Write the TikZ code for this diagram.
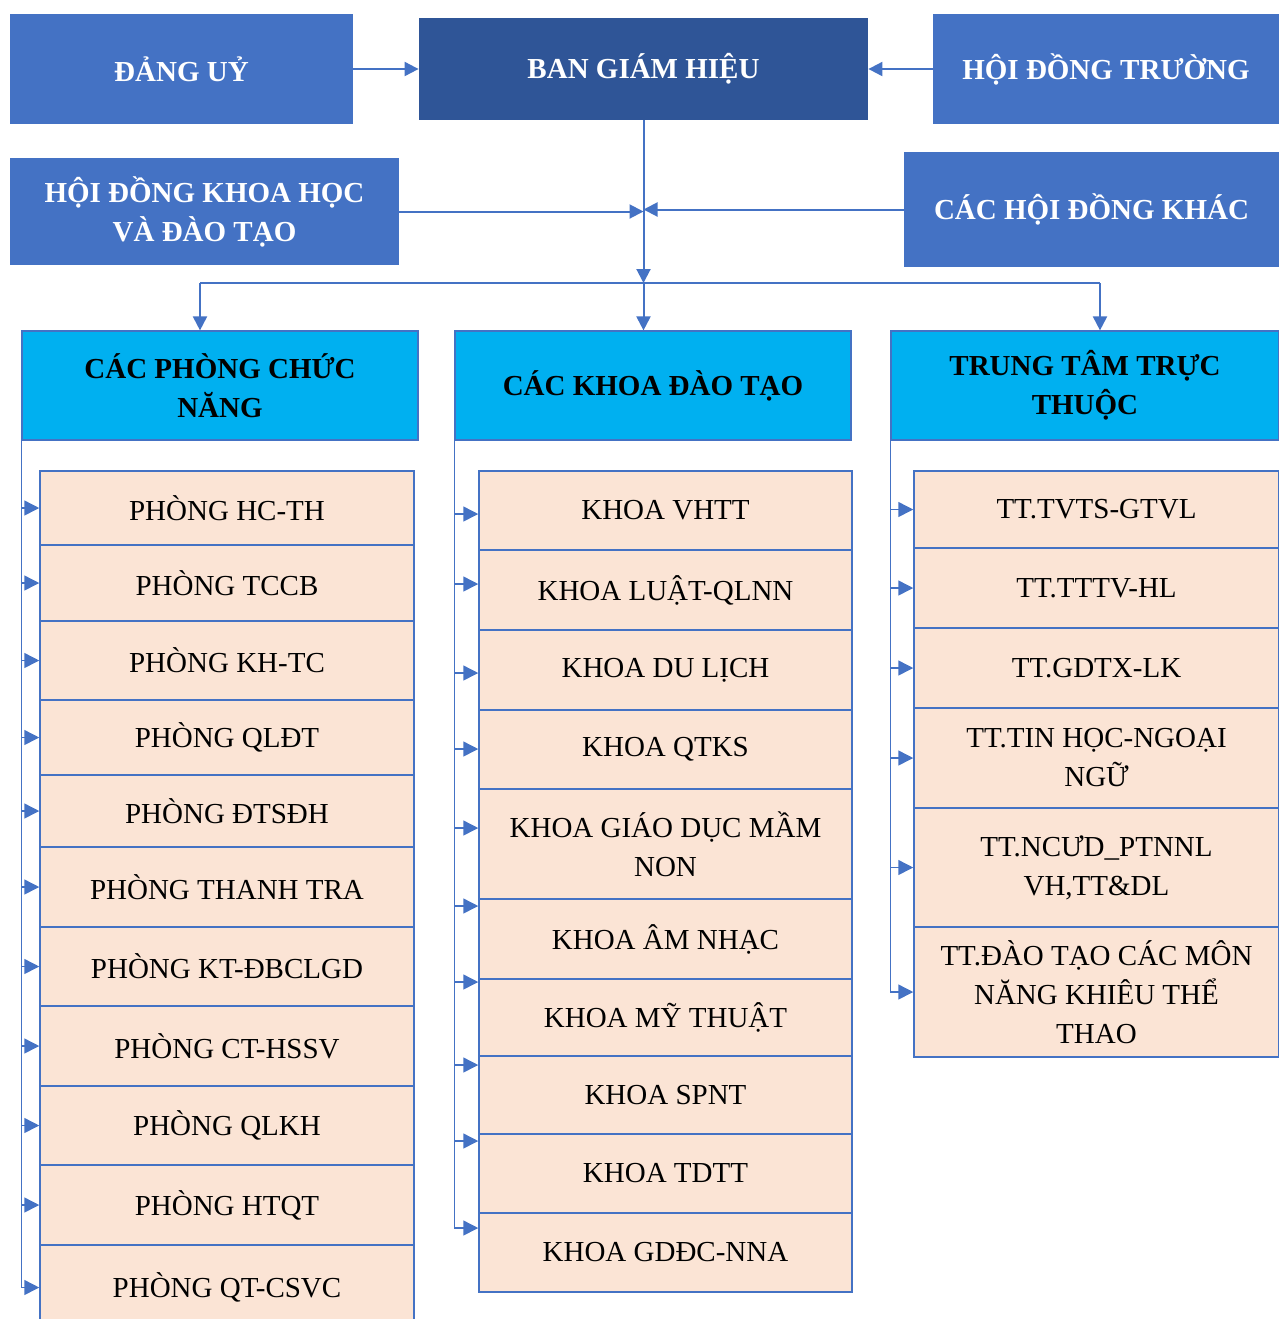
\documentclass[tikz,border=0pt]{standalone}
\usepackage{fontspec}
\setmainfont{Liberation Serif}
\usetikzlibrary{arrows.meta}

\definecolor{topblue}{HTML}{4472C4}
\definecolor{darkblue}{HTML}{2F5597}
\definecolor{headblue}{HTML}{00B0F0}
\definecolor{peach}{HTML}{FBE4D5}

\tikzset{
  span/.style n args={4}{at={({(#1+#3)/2},{(#2+#4)/2})},
    minimum width={(#3-#1)*0.5pt}, minimum height={(#4-#2)*0.5pt}},
  topbox/.style={fill=topblue, draw=none, inner sep=0pt, align=center,
    text=white, font=\fontsize{14.5}{19.5}\selectfont\bfseries},
  headbox/.style={fill=headblue, draw=topblue, line width=0.6pt, inner sep=0pt,
    align=center, font=\fontsize{14.5}{19.5}\selectfont\bfseries},
  listbox/.style={fill=peach, draw=topblue, line width=0.75pt, inner sep=0pt,
    align=center, font=\fontsize{14.5}{19.5}\selectfont},
  link/.style={draw=topblue, line width=1pt},
  arr/.style={link, -{Triangle[length=7pt,width=7pt]}},
  spine/.style={draw=topblue, line width=0.75pt},
  sarr/.style={spine, -{Triangle[length=7.5pt,width=7.5pt]}}
}

\begin{document}
\begin{tikzpicture}[x=0.5pt,y=-0.5pt]
\useasboundingbox (0,0) rectangle (1279,1319);

% draw boxes on top
\node[topbox, span={10}{14}{353}{124}] (dang) {ĐẢNG UỶ};
\node[topbox, fill=darkblue, span={419}{18}{868}{120}] (bgh) {BAN GIÁM HIỆU};
\node[topbox, span={933}{14}{1279}{124}] (hdt) {HỘI ĐỒNG TRƯỜNG};
\node[topbox, span={10}{158}{399}{265}] (hdkh) {HỘI ĐỒNG KHOA HỌC\\VÀ ĐÀO TẠO};
\node[topbox, span={904}{152}{1279}{267}] (hdk) {CÁC HỘI ĐỒNG KHÁC};

% draw arrows to the board
\draw[arr] (dang) -- (bgh);
\draw[arr] (hdt) -- (bgh);
\draw[arr] (hdkh) -- (hdkh -| bgh.south);
\draw[arr] (hdk) -- (hdk -| bgh.south);

% draw the three column heads
\node[headbox, span={22}{331}{418}{440}] (hp) {CÁC PHÒNG CHỨC\\NĂNG};
\node[headbox, span={455}{331}{851}{440}] (hk) {CÁC KHOA ĐÀO TẠO};
\node[headbox, span={891}{331}{1279}{440}] (ht) {TRUNG TÂM TRỰC\\THUỘC};

% draw the line over the heads
\coordinate (busl) at (200,283);
\coordinate (busr) at (1100,283);
\draw[arr] (bgh.south) -- (bgh.south |- busl);
\draw[link] (busl) -- (busr);
\draw[arr] (busl) -- (busl |- hp.north);
\draw[arr] (bgh.south |- busl) -- (bgh.south |- hk.north);
\draw[arr] (busr) -- (busr |- ht.north);

% draw the offices
\foreach \i/\t/\b/\txt in {
  1/471/545/{PHÒNG HC-TH},
  2/545/621/{PHÒNG TCCB},
  3/621/700/{PHÒNG KH-TC},
  4/700/775/{PHÒNG QLĐT},
  5/775/847/{PHÒNG ĐTSĐH},
  6/847/927/{PHÒNG THANH TRA},
  7/927/1006/{PHÒNG KT-ĐBCLGD},
  8/1006/1086/{PHÒNG CT-HSSV},
  9/1086/1165/{PHÒNG QLKH},
  10/1165/1245/{PHÒNG HTQT},
  11/1245/1330/{PHÒNG QT-CSVC}}
\node[listbox, span={40}{\t}{414}{\b}] (p\i) {\txt};

\draw[spine] (hp.south west) -- (hp.south west |- p11.west);
\foreach \i in {1,...,11}
\draw[sarr] (hp.south west |- p\i.west) -- (p\i.west);

% draw the faculties
\foreach \i/\t/\b/\txt in {
  1/471/550/{KHOA VHTT},
  2/550/630/{KHOA LUẬT-QLNN},
  3/630/710/{KHOA DU LỊCH},
  4/710/789/{KHOA QTKS},
  5/789/899/{KHOA GIÁO DỤC MẦM\\NON},
  6/899/979/{KHOA ÂM NHẠC},
  7/979/1056/{KHOA MỸ THUẬT},
  8/1056/1134/{KHOA SPNT},
  9/1134/1213/{KHOA TDTT},
  10/1213/1292/{KHOA GDĐC-NNA}}
\node[listbox, span={479}{\t}{852}{\b}] (k\i) {\txt};

\draw[spine] (hk.south west) -- (hk.south west |- 0,1228);
\foreach \i/\y in {1/514,2/584,3/673,4/749,5/828,6/906,7/982,8/1065,9/1141,10/1228}
\draw[sarr] (hk.south west |- 0,\y) -- (k\i.west |- 0,\y);

% draw the centres
\foreach \i/\t/\b/\txt in {
  1/471/548/{TT.TVTS-GTVL},
  2/548/628/{TT.TTTV-HL},
  3/628/708/{TT.GDTX-LK},
  4/708/808/{TT.TIN HỌC-NGOẠI\\NGỮ},
  5/808/927/{TT.NCƯD\_PTNNL\\VH,TT\&DL},
  6/927/1057/{TT.ĐÀO TẠO CÁC MÔN\\NĂNG KHIÊU THỂ\\THAO}}
\node[listbox, span={914}{\t}{1279}{\b}] (t\i) {\txt};

\draw[spine] (ht.south west) -- (ht.south west |- t6.west);
\foreach \i in {1,...,6}
\draw[sarr] (ht.south west |- t\i.west) -- (t\i.west);
\end{tikzpicture}
\end{document}
